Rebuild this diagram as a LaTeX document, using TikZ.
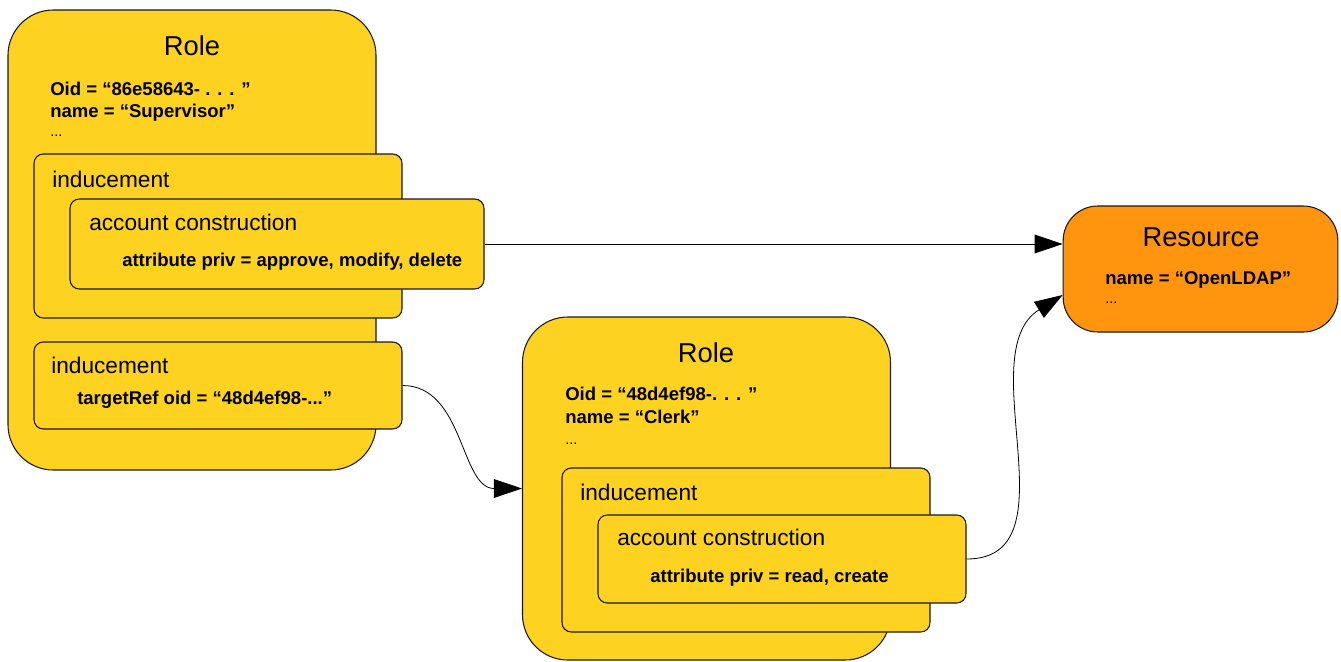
\documentclass[tikz,border=0pt]{standalone}
\usepackage{fontspec}
\setmainfont{Liberation Sans}
\usetikzlibrary{arrows.meta,positioning,calc}

\definecolor{roleyellow}{RGB}{253,210,32}
\definecolor{resorange}{RGB}{255,149,14}

\begin{document}
\begin{tikzpicture}[
    x=0.75pt, y=-0.75pt,
    rolebox/.style={rectangle, draw=black!90, line width=0.8pt, fill=roleyellow, rounded corners=34pt, minimum width=276pt, minimum height=345pt},
    subbox/.style={rectangle, draw=black!90, line width=0.8pt, fill=roleyellow, rounded corners=7pt, minimum width=276pt},
    resbox/.style={rectangle, draw=black!90, line width=0.8pt, fill=resorange, rounded corners=26pt, minimum width=206pt, minimum height=94.5pt},
    title/.style={font=\fontsize{20.5}{24}\selectfont, inner sep=0pt},
    label/.style={font=\fontsize{17}{20}\selectfont, inner sep=0pt, anchor=base west},
    attr/.style={font=\fontsize{13.9}{16.5}\selectfont\bfseries, inner sep=0pt, anchor=base west},
    arrow/.style={-{Triangle[length=21pt, width=14pt]}, line width=0.6pt, black}
]
\useasboundingbox (0,0) rectangle (1341,661);

% Supervisor role
\node[rolebox] (role1) at (192,240) {};
\node[title] (role1title) at (192,46) {Role};
\node[attr] (role1oid) at (50,95) {Oid = “86e58643- . . . ”};
\node[attr] (role1name) at (50,117) {name = “Supervisor”};
\node[attr, font=\fontsize{11}{13}\selectfont] (role1more) at (50,136) {...};

% Inducement with construction
\node[subbox, minimum height=123pt] (ind1) at (218,236) {};
\node[label] (ind1label) at (52,187) {inducement};
\node[subbox, minimum width=310.5pt, minimum height=67.5pt] (acc1) at (277,244) {};
\node[label] (acc1label) at (89,230) {account construction};
\node[attr] (acc1priv) at (122,266) {attribute priv = approve, modify, delete};

% Inducement with target
\node[subbox, minimum height=65.25pt] (ind2) at (218,385.5) {};
\node[label] (ind2label) at (51,373) {inducement};
\node[attr] (ind2ref) at (77,404) {targetRef oid = “48d4ef98-..."};

% Clerk role
\node[rolebox, minimum height=257.25pt] (role2) at (706.5,488.5) {};
\node[title] (role2title) at (706,353) {Role};
\node[attr] (role2oid) at (565,400) {Oid = “48d4ef98-. . . ”};
\node[attr] (role2name) at (565,423) {name = “Clerk”};
\node[attr, font=\fontsize{11}{13}\selectfont] (role2more) at (565,444) {...};

\node[subbox, minimum height=123pt] (ind3) at (746,550) {};
\node[label] (ind3label) at (580,500) {inducement};
\node[subbox, minimum height=66pt] (acc2) at (782,559) {};
\node[label] (acc2label) at (617,545) {account construction};
\node[attr] (acc2priv) at (650,582) {attribute priv = read, create};

% Resource
\node[resbox] (res) at (1200.5,269) {};
\node[title] (restitle) at (1201,237) {Resource};
\node[attr] (resname) at (1105,284) {name = “OpenLDAP”};
\node[attr, font=\fontsize{11}{13}\selectfont] (resmore) at (1105,303) {...};

% Arrows
\draw[arrow] (acc1.east) -- (acc1.east -| res.west);
\draw[arrow] (ind2.east) to[out=0, in=180] (role2.west);
\draw[arrow] (acc2.east) to[out=0, in=212] ([yshift=-19.5pt]res.west);

\end{tikzpicture}
\end{document}
